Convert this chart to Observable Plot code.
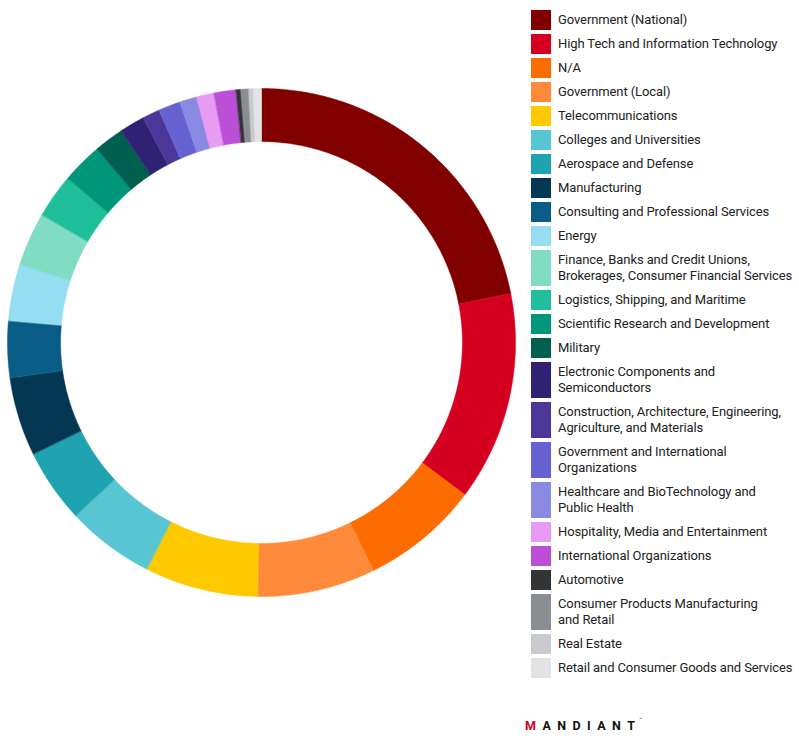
<!DOCTYPE html>
<html>
<head>
<meta charset="utf-8">
<script src="https://cdn.jsdelivr.net/npm/d3@7"></script>
<script src="https://cdn.jsdelivr.net/npm/@observablehq/plot@0.6"></script>
<style>
  html, body { margin: 0; padding: 0; background: #fff; }
  body { width: 799px; height: 740px; position: relative; font-family: Roboto, "Noto Sans", sans-serif; }
  #chart { position: absolute; left: 0; top: 0; }
  #legend { position: absolute; left: 531px; top: 10px; }
  .item { display: flex; align-items: stretch; margin-bottom: 4px; }
  .sw { width: 20px; flex: none; }
  .lab { margin-left: 7px; padding: 2px 0; font-size: 13px; line-height: 16px; color: #222; white-space: pre; letter-spacing: -0.1px; }
  #logo { position: absolute; left: 525px; top: 718px; font-family: Roboto, sans-serif; font-weight: 700; font-size: 12.5px; letter-spacing: 6.4px; color: #111; }
  #logo .m { color: #d50020; }
  #logo .last { letter-spacing: 0; }
  #tm { position: absolute; left: 639px; top: 716px; font-family: Roboto, sans-serif; font-size: 5px; line-height: 6px; color: #111; }
</style>
</head>
<body>
<div id="chart"></div>
<div id="legend"></div>
<div id="logo"><span class="m">M</span>ANDIAN<span class="last">T</span></div>
<div id="tm">™</div>
<script>
// ---- Data ----
const categories = [
  "Government (National)",
  "High Tech and Information Technology",
  "N/A",
  "Government (Local)",
  "Telecommunications",
  "Colleges and Universities",
  "Aerospace and Defense",
  "Manufacturing",
  "Consulting and Professional Services",
  "Energy",
  "Finance, Banks and Credit Unions,\nBrokerages, Consumer Financial Services",
  "Logistics, Shipping, and Maritime",
  "Scientific Research and Development",
  "Military",
  "Electronic Components and\nSemiconductors",
  "Construction, Architecture, Engineering,\nAgriculture, and Materials",
  "Government and International\nOrganizations",
  "Healthcare and BioTechnology and\nPublic Health",
  "Hospitality, Media and Entertainment",
  "International Organizations",
  "Automotive",
  "Consumer Products Manufacturing\nand Retail",
  "Real Estate",
  "Retail and Consumer Goods and Services"
];
const shares = [21.9, 13.3, 7.5, 7.5, 7.2, 5.6, 4.7, 5.0, 3.6, 3.6, 3.4, 2.8, 2.6, 1.9, 1.6, 1.1, 1.4, 1.1, 1.1, 1.4, 0.3, 0.5, 0.3, 0.5];
const colors = [
  "#800000", "#d50020", "#fc6c00", "#ff8a3a", "#ffc900", "#58c5d2",
  "#1fa3b1", "#033752", "#085c86", "#95def2", "#80dcc2", "#1ebf9a",
  "#009679", "#00604f", "#2f2272", "#4b3799", "#6762d2", "#8a89e2",
  "#e79bf2", "#bb50d6", "#323436", "#8a8d92", "#c9cacd", "#e2e3e4"
];

// ---- Build ring sectors from the data ----
const data = categories.map((c, i) => ({category: c, share: shares[i]}));
const arcs = d3.pie().sort(null).value(d => d.share)(data);
const R_OUT = 1, R_IN = 0.791;
function sector(a0, a1, r0, r1) {
  const n = Math.max(3, Math.ceil((a1 - a0) / (Math.PI / 360)));
  const pts = [];
  for (let k = 0; k <= n; k++) { const a = a0 + (a1 - a0) * k / n; pts.push([r1 * Math.sin(a), -r1 * Math.cos(a)]); }
  for (let k = n; k >= 0; k--) { const a = a0 + (a1 - a0) * k / n; pts.push([r0 * Math.sin(a), -r0 * Math.cos(a)]); }
  pts.push(pts[0]);
  return pts;
}
const features = arcs.map(a => ({
  type: "Feature",
  properties: {category: a.data.category},
  geometry: {type: "Polygon", coordinates: [sector(a.startAngle, a.endAngle, R_IN, R_OUT)]}
}));
const frameDomain = {type: "Polygon", coordinates: [[[-1, -1], [1, -1], [1, 1], [-1, 1], [-1, -1]]]};

const chart = Plot.plot({
  width: 522,
  height: 603,
  marginTop: 88,
  marginLeft: 7,
  marginRight: 7,
  marginBottom: 7,
  projection: {type: "identity", domain: frameDomain, inset: 0},
  color: {type: "ordinal", domain: categories, range: colors},
  marks: [
    Plot.geo(features, {
      fill: d => d.properties.category,
      stroke: d => d.properties.category,
      strokeWidth: 0.5
    })
  ]
});
document.getElementById("chart").append(chart);

// ---- Legend (HTML, from the same arrays / colour scale) ----
const scale = chart.scale("color");
const legend = document.getElementById("legend");
for (const c of categories) {
  const item = document.createElement("div");
  item.className = "item";
  const sw = document.createElement("div");
  sw.className = "sw";
  sw.style.background = scale.apply(c);
  const lab = document.createElement("div");
  lab.className = "lab";
  lab.textContent = c;
  item.append(sw, lab);
  legend.append(item);
}
</script>
</body>
</html>
